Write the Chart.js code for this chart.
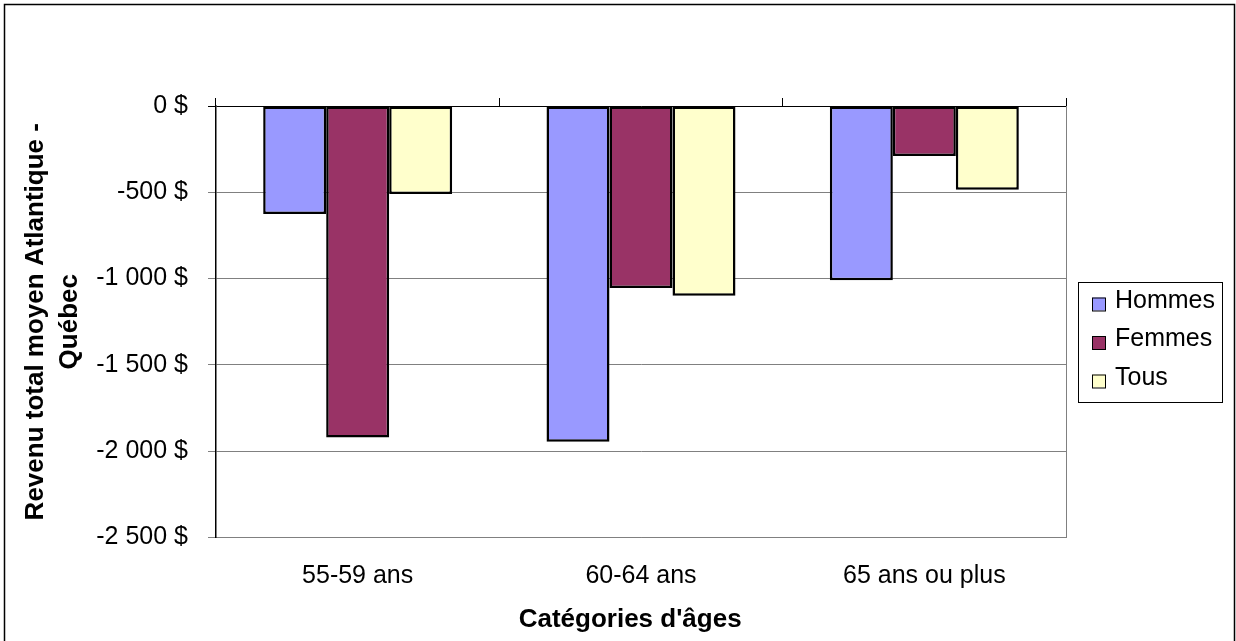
<!DOCTYPE html>
<html>
<head>
<meta charset="utf-8">
<script src="https://cdn.jsdelivr.net/npm/chart.js@4/dist/chart.umd.min.js"></script>
<style>
  html, body { margin: 0; padding: 0; background: #fff; }
  #wrap { width: 1236px; height: 641px; position: relative; }
</style>
</head>
<body>
<div id="wrap"><canvas id="barChart"></canvas></div>
<script>
// data
const ageGroups = ["55-59 ans", "60-64 ans", "65 ans ou plus"];
const hommes = [-625, -1945, -1010];
const femmes = [-1920, -1055, -290];
const tous = [-510, -1100, -485];
const seriesNames = ["Hommes", "Femmes", "Tous"];
const yTicks = [0, -500, -1000, -1500, -2000, -2500];

const FONT = "Arial, 'Liberation Sans', sans-serif";

function fmtDollar(v) {
    const s = Math.abs(v).toString().replace(/\B(?=(\d{3})+(?!\d))/g, " ");
    return (v < 0 ? "-" : "") + s + " $";
}

// frame, right edge of the plot and the boxed legend
const excelFrame = {
    id: "excelFrame",
    afterDraw(chart) {
        const ctx = chart.ctx;
        const a = chart.chartArea;
        ctx.save();
        ctx.strokeStyle = "#808080";
        ctx.lineWidth = 1;
        ctx.beginPath();
        ctx.moveTo(Math.round(a.right) + 0.5, a.top);
        ctx.lineTo(Math.round(a.right) + 0.5, a.bottom);
        ctx.stroke();

        // outer border
        ctx.strokeStyle = "#000";
        ctx.lineWidth = 1.5;
        ctx.beginPath();
        ctx.moveTo(4.5, 650);
        ctx.lineTo(4.5, 4.5);
        ctx.lineTo(1234.5, 4.5);
        ctx.lineTo(1234.5, 650);
        ctx.stroke();

        // legend
        const lx = 1078, ly = 282, lw = 144, lh = 120;
        ctx.fillStyle = "#fff";
        ctx.fillRect(lx, ly, lw, lh);
        ctx.strokeStyle = "#000";
        ctx.lineWidth = 1;
        ctx.strokeRect(lx + 0.5, ly + 0.5, lw, lh);
        ctx.font = "25px " + FONT;
        ctx.textBaseline = "middle";
        chart.data.datasets.forEach((ds, i) => {
            const cy = 304 + i * 38.5;
            ctx.fillStyle = ds.backgroundColor;
            ctx.fillRect(1092, cy - 6.5, 13, 13);
            ctx.strokeRect(1092.5, cy - 6, 13, 13);
            ctx.fillStyle = "#000";
            ctx.fillText(ds.label, 1115, cy - 3);
        });
        ctx.restore();
    }
};

const colors = ["#9999FF", "#993366", "#FFFFCC"];
const values = [hommes, femmes, tous];

new Chart(document.getElementById("barChart"), {
    type: "bar",
    data: {
        labels: ageGroups,
        datasets: seriesNames.map((name, i) => ({
            label: name,
            data: values[i],
            backgroundColor: colors[i],
            borderColor: "#000",
            borderWidth: 2.5,
            borderSkipped: false,
            categoryPercentage: 0.667,
            barPercentage: 1.0,
            xAxisID: "x"
        }))
    },
    options: {
        responsive: true,
        maintainAspectRatio: false,
        animation: false,
        devicePixelRatio: 1,
        layout: { padding: { left: 0, right: 170, top: 0, bottom: 0 } },
        plugins: {
            legend: { display: false },
            tooltip: { enabled: false }
        },
        scales: {
            x: {
                position: "bottom",
                grid: { display: false, drawTicks: false, tickLength: 0 },
                border: { display: true, color: "#808080", width: 1 },
                ticks: { color: "#000", font: { family: FONT, size: 25 }, padding: 24 },
                title: {
                    display: true,
                    // trailing spaces nudge the centred title left like the original
                    text: "Catégories d'âges   ",
                    color: "#000",
                    font: { family: FONT, size: 26, weight: "bold" },
                    padding: { top: 0, bottom: 6 }
                },
                afterFit(s) { s.height = 641 - 537.5; }
            },
            xTop: {
                position: "top",
                type: "category",
                labels: ageGroups,
                offset: true,
                grid: { offset: true, drawOnChartArea: false, tickLength: 8, color: "#000" },
                border: { display: false },
                ticks: { display: false },
                afterFit(s) { s.height = 106; }
            },
            y: {
                min: yTicks[yTicks.length - 1],
                max: yTicks[0],
                afterBuildTicks(s) { s.ticks = yTicks.map(v => ({ value: v })); },
                grid: {
                    color: ctx => ctx.tick && ctx.tick.value === 0 ? "#000" : "#808080",
                    lineWidth: 1,
                    tickLength: 8
                },
                border: { display: true, color: "#000", width: 1.5 },
                ticks: {
                    color: "#000",
                    font: { family: FONT, size: 25 },
                    padding: 20,
                    callback: v => fmtDollar(v)
                },
                title: {
                    display: true,
                    text: ["Revenu total moyen Atlantique -", "Québec"],
                    color: "#000",
                    font: { family: FONT, size: 26, weight: "bold", lineHeight: 1.3 },
                    padding: { top: 19, bottom: 0 }
                },
                afterFit(s) { s.width = 216; }
            }
        }
    },
    plugins: [excelFrame]
});
</script>
</body>
</html>
